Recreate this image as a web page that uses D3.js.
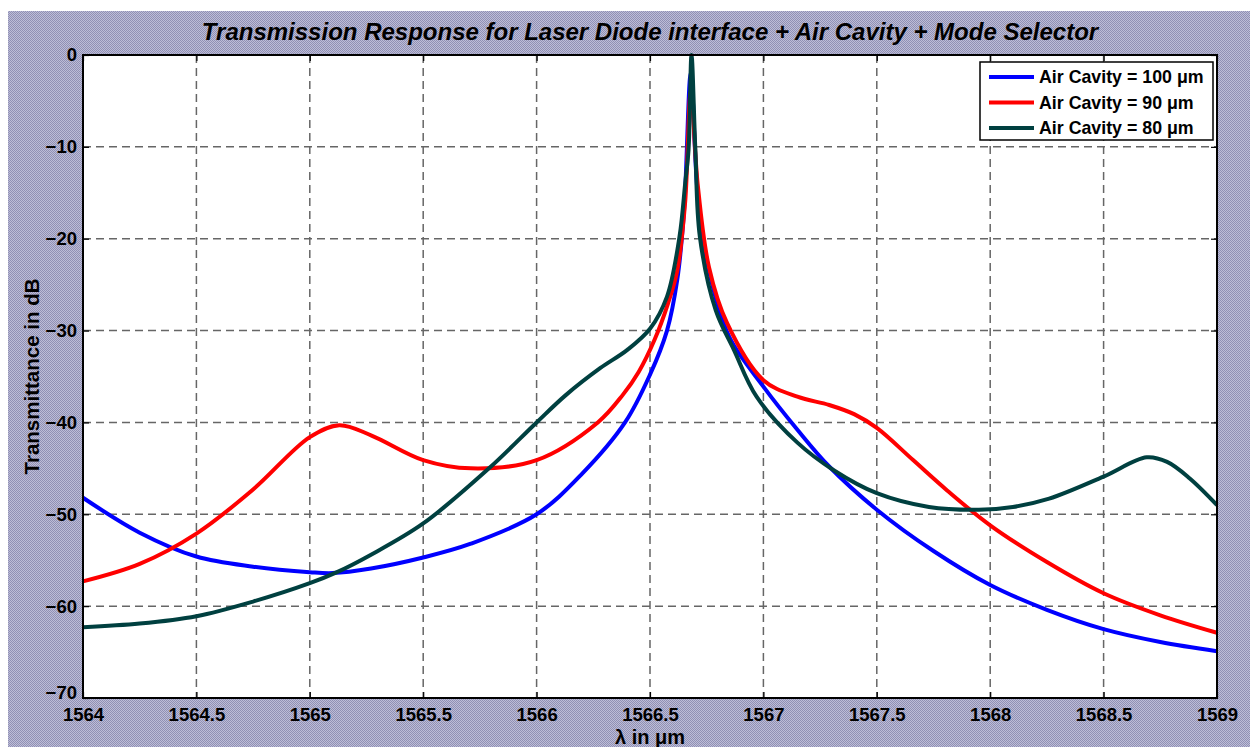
<!DOCTYPE html>
<html>
<head>
<meta charset="utf-8">
<script src="https://cdn.jsdelivr.net/npm/d3@7"></script>
<style>
  body { margin: 0; background: #fff; }
  text { font-family: "Liberation Sans", Arial, sans-serif; font-weight: bold; }
</style>
</head>
<body>
<div id="chart"></div>
<script>
// wavelength (um) / transmittance (dB), one pair of arrays per cavity

var wl100 = [1564, 1564.25, 1564.5, 1564.75, 1565, 1565.1, 1565.27, 1565.5, 1565.71, 1566, 1566.2, 1566.39, 1566.5, 1566.575, 1566.62, 1566.65, 1566.68, 1566.71, 1566.76, 1566.85, 1567, 1567.15, 1567.29, 1567.5, 1567.75, 1568, 1568.25, 1568.5, 1568.75, 1569];
var tr100 = [-48.2, -52.0, -54.6, -55.7, -56.3, -56.4, -55.9, -54.7, -53.2, -50.0, -45.6, -40.0, -34.8, -30.0, -24.5, -17, -2, -15, -23.5, -30.7, -36.1, -40.8, -44.8, -49.5, -54.0, -57.7, -60.4, -62.5, -63.9, -64.9];

var wl90 = [1564, 1564.25, 1564.5, 1564.75, 1565, 1565.13, 1565.27, 1565.5, 1565.71, 1566, 1566.27, 1566.38, 1566.45, 1566.52, 1566.58, 1566.62, 1566.655, 1566.68, 1566.71, 1566.76, 1566.84, 1567, 1567.15, 1567.29, 1567.4, 1567.5, 1567.66, 1567.81, 1568, 1568.25, 1568.5, 1568.75, 1569];
var tr90 = [-57.3, -55.4, -52.1, -47.3, -41.6, -40.3, -41.4, -44.1, -45.0, -44.1, -40.0, -37.0, -34.5, -31.0, -27.0, -23.5, -16, -4, -14, -23.1, -29.2, -35.4, -37.2, -38.1, -39.1, -40.6, -44.1, -47.4, -51.2, -55.2, -58.6, -61.0, -62.9];

var wl80 = [1564, 1564.25, 1564.5, 1564.75, 1565, 1565.12, 1565.27, 1565.5, 1565.79, 1566, 1566.13, 1566.28, 1566.4, 1566.5, 1566.575, 1566.63, 1566.655, 1566.67, 1566.683, 1566.70, 1566.72, 1566.79, 1566.87, 1566.97, 1567.15, 1567.31, 1567.5, 1567.73, 1567.95, 1568.1, 1568.26, 1568.5, 1568.69, 1568.78, 1568.88, 1569];
var tr80 = [-62.3, -61.9, -61.1, -59.5, -57.5, -56.3, -54.4, -51.0, -45.0, -40.0, -37.0, -34.1, -32.1, -29.8, -26.3, -19.8, -14, -10.3, 0, -10.3, -19.8, -27.8, -32.1, -37.2, -42.2, -45.2, -47.7, -49.2, -49.5, -49.2, -48.3, -45.9, -43.8, -44.3, -46.1, -49.0];

var seriesNames = ["Air Cavity = 100 \u03bcm", "Air Cavity = 90 \u03bcm", "Air Cavity = 80 \u03bcm"];
var seriesColors = ["#0000ff", "#ff0000", "#004040"];
var xTicks = [1564, 1564.5, 1565, 1565.5, 1566, 1566.5, 1567, 1567.5, 1568, 1568.5, 1569];
var yTicks = [-70, -60, -50, -40, -30, -20, -10, 0];

var width = 1250, height = 747;
var margin = {left: 83, top: 55, right: 33, bottom: 49};

var svg = d3.select("#chart").append("svg").attr("width", width).attr("height", height);

// grey textured figure background
var pat = svg.append("defs").append("pattern").attr("id", "bgPat")
    .attr("width", 2).attr("height", 2).attr("patternUnits", "userSpaceOnUse");
pat.append("rect").attr("width", 2).attr("height", 2).attr("fill", "#bdbdd7");
pat.append("rect").attr("width", 1).attr("height", 1).attr("fill", "#9090b4");
pat.append("rect").attr("x", 1).attr("y", 1).attr("width", 1).attr("height", 1).attr("fill", "#9090b4");
svg.append("rect").attr("x", 8).attr("y", 11).attr("width", width - 8).attr("height", height - 11)
    .attr("fill", "url(#bgPat)");

var x = d3.scaleLinear().domain([1564, 1569]).range([margin.left, width - margin.right]);
var y = d3.scaleLinear().domain([-70, 0]).range([height - margin.bottom, margin.top]);
var x0 = x.range()[0], x1 = x.range()[1], y0 = y.range()[0], y1 = y.range()[1];

svg.append("rect").attr("x", x0).attr("y", y1).attr("width", x1 - x0).attr("height", y0 - y1).attr("fill", "#fff");

// dashed grid
var grid = svg.append("g").attr("stroke", "#666").attr("stroke-width", 1.5).attr("stroke-dasharray", "8,5");
grid.selectAll(".vg").data(xTicks.slice(1, -1)).enter().append("line")
    .attr("x1", d => x(d)).attr("x2", d => x(d)).attr("y1", y1).attr("y2", y0);
grid.selectAll(".hg").data(yTicks.slice(1, -1)).enter().append("line")
    .attr("y1", d => y(d)).attr("y2", d => y(d)).attr("x1", x0).attr("x2", x1);

// lines
var line = d3.line().x(d => x(d[0])).y(d => y(d[1])).curve(d3.curveCatmullRom.alpha(0.5));
var series = [d3.zip(wl100, tr100), d3.zip(wl90, tr90), d3.zip(wl80, tr80)];
svg.append("g").selectAll("path").data(series).enter().append("path")
    .attr("d", line)
    .attr("fill", "none")
    .attr("stroke", (d, i) => seriesColors[i])
    .attr("stroke-width", 4)
    .attr("stroke-linejoin", "round");

// axes: inward ticks on all four sides
svg.append("g").attr("transform", "translate(0," + y0 + ")")
    .call(d3.axisBottom(x).tickValues(xTicks).tickFormat(d3.format("")).tickSizeInner(-6).tickSizeOuter(0).tickPadding(10))
    .call(g => g.select(".domain").remove())
    .selectAll("text").attr("font-size", 18.5).attr("fill", "#000").attr("font-family", null);
svg.append("g").attr("transform", "translate(" + x0 + ",0)")
    .call(d3.axisLeft(y).tickValues(yTicks).tickFormat(d3.format("")).tickSizeInner(-6).tickSizeOuter(0).tickPadding(6))
    .call(g => g.select(".domain").remove())
    .selectAll("text").attr("font-size", 18.5).attr("fill", "#000").attr("font-family", null)
    .attr("dy", d => d === -70 ? "0.05em" : "0.32em");
svg.append("g").attr("transform", "translate(0," + y1 + ")")
    .call(d3.axisTop(x).tickValues(xTicks).tickFormat("").tickSizeInner(-6).tickSizeOuter(0))
    .call(g => g.select(".domain").remove());
svg.append("g").attr("transform", "translate(" + x1 + ",0)")
    .call(d3.axisRight(y).tickValues(yTicks).tickFormat("").tickSizeInner(-6).tickSizeOuter(0))
    .call(g => g.select(".domain").remove());
svg.selectAll(".tick line").attr("stroke", "#000").attr("stroke-width", 1.2);

svg.append("rect").attr("x", x0).attr("y", y1).attr("width", x1 - x0).attr("height", y0 - y1)
    .attr("fill", "none").attr("stroke", "#000").attr("stroke-width", 2);

// titles
svg.append("text").attr("x", 650).attr("y", 40).attr("text-anchor", "middle")
    .attr("font-size", 24).attr("font-style", "italic")
    .text("Transmission Response for Laser Diode interface + Air Cavity + Mode Selector");
svg.append("text").attr("x", 650).attr("y", 744).attr("text-anchor", "middle")
    .attr("font-size", 20).text("\u03bb in \u03bcm");
svg.append("text").attr("transform", "translate(39," + (y0 + y1) / 2 + ") rotate(-90)")
    .attr("text-anchor", "middle").attr("font-size", 20.5).text("Transmittance in dB");

// legend
var leg = svg.append("g").attr("transform", "translate(980,62)");
leg.append("rect").attr("width", 233).attr("height", 78).attr("fill", "#fff").attr("stroke", "#000").attr("stroke-width", 1.5);
var items = leg.selectAll(".item").data(seriesNames).enter().append("g")
    .attr("transform", (d, i) => "translate(0," + (15 + i * 25.5) + ")");
items.append("line").attr("x1", 9).attr("x2", 54)
    .attr("stroke", (d, i) => seriesColors[i]).attr("stroke-width", 4);
items.append("text").attr("x", 59).attr("dy", "0.36em").attr("font-size", 17.8).text(d => d);
</script>
</body>
</html>
